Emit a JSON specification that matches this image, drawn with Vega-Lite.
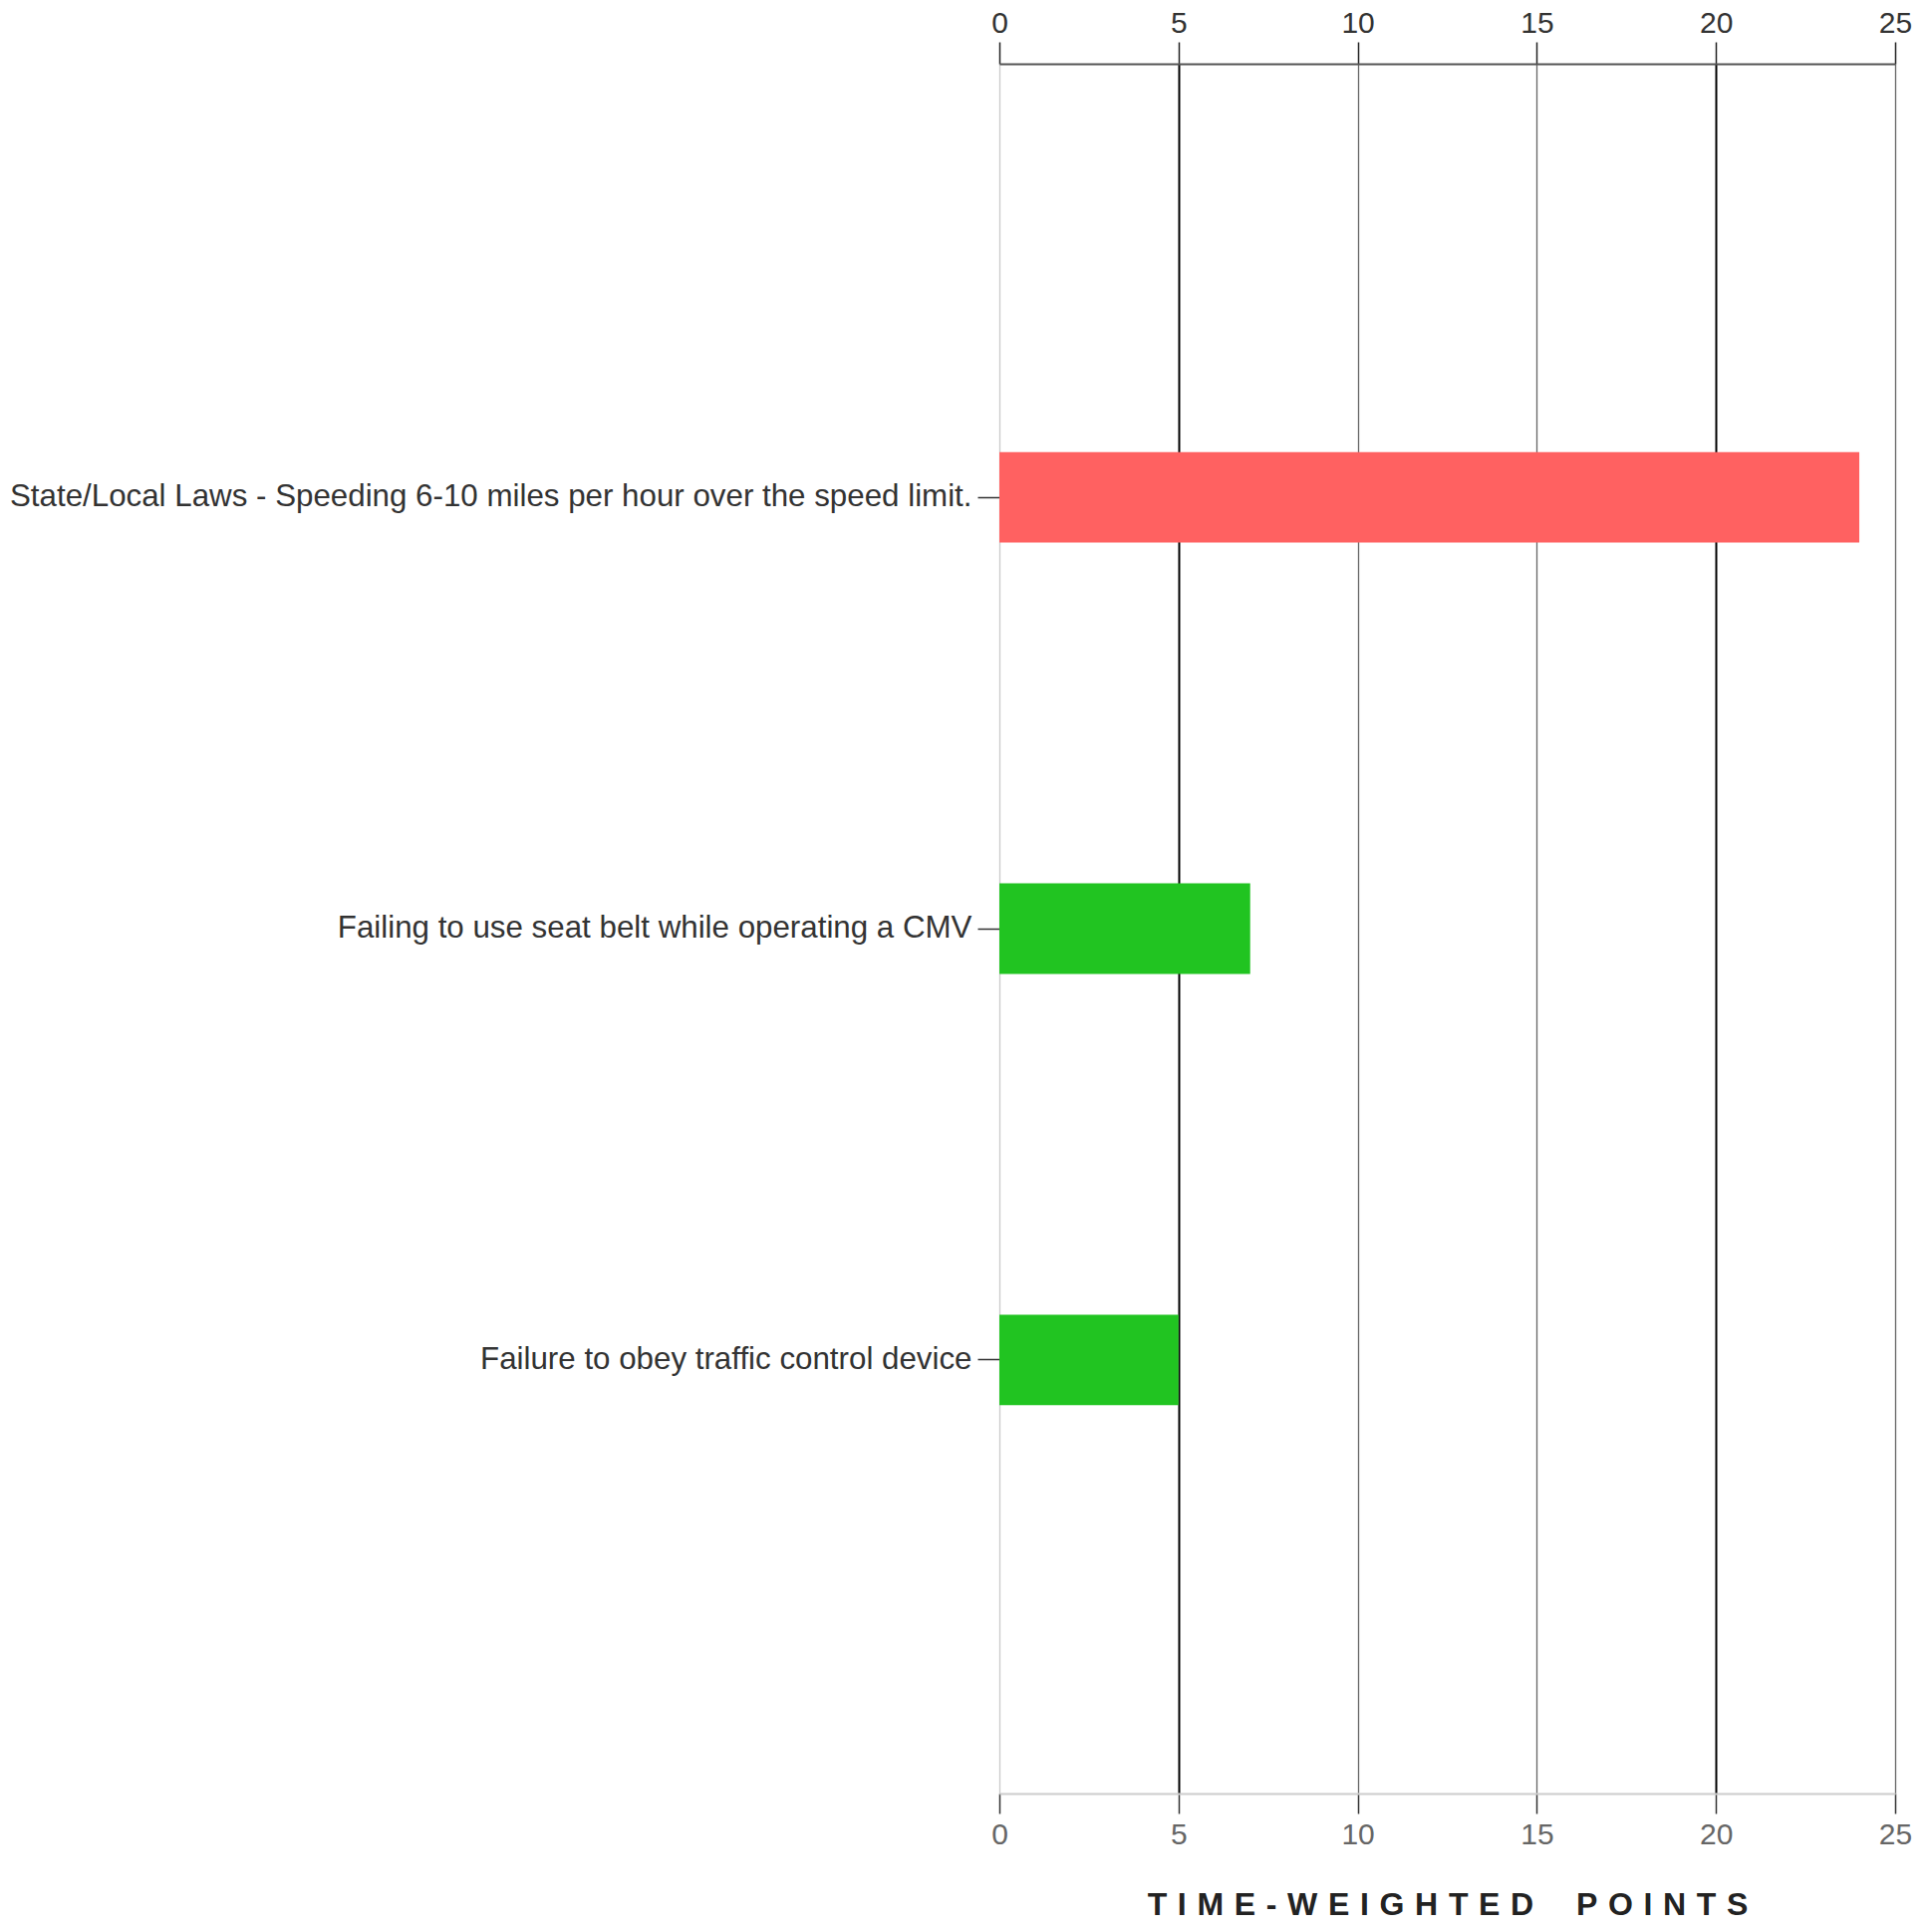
{
  "$schema": "https://vega.github.io/schema/vega-lite/v6.json",
  "autosize": "none",
  "width": 899,
  "height": 1736,
  "padding": {"left": 1003, "top": 64, "right": 35, "bottom": 139},
  "background": "white",
  "data": {"values": [
    {"violation": "State/Local Laws - Speeding 6-10 miles per hour over the speed limit.", "points": 24, "severity": "high"},
    {"violation": "Failing to use seat belt while operating a CMV", "points": 7, "severity": "low"},
    {"violation": "Failure to obey traffic control device", "points": 5, "severity": "low"}
  ]},
  "config": {
    "view": {"stroke": null},
    "font": "Liberation Sans"
  },
  "resolve": {"scale": {"x": "shared"}, "axis": {"x": "independent"}},
  "layer": [
    {
      "mark": {"type": "bar"},
      "encoding": {
        "y": {
          "field": "violation", "type": "nominal", "sort": null,
          "scale": {"paddingInner": 0.79, "paddingOuter": 0.9},
          "axis": {
            "title": null, "domain": false, "tickSize": 22, "tickColor": "#333", "tickWidth": 1.5,
            "labelFontSize": 31.3, "labelColor": "#333", "labelPadding": 6, "labelLimit": 1000
          }
        },
        "x": {
          "field": "points", "type": "quantitative",
          "scale": {"domain": [0, 25], "nice": false},
          "axis": {
            "orient": "bottom", "values": [0, 5, 10, 15, 20, 25],
            "title": "T\u2004I\u2004M\u2004E\u2004-\u2004W\u2004E\u2004I\u2004G\u2004H\u2004T\u2004E\u2004D\u2003\u2004P\u2004O\u2004I\u2004N\u2004T\u2004S",
            "titleFontSize": 32, "titleFontWeight": "bold", "titleColor": "#222", "titlePadding": 40,
            "domainColor": "#ccc", "domainWidth": 2,
            "tickSize": 20, "tickColor": "#333", "tickWidth": 1.5,
            "labelFontSize": 30, "labelColor": "#666", "labelPadding": 6, "labelFlush": false,
            "grid": true,
            "gridColor": {"condition": {"test": "datum.value == 5 || datum.value == 20", "value": "#000"}, "value": "#666"},
            "gridWidth": {"condition": {"test": "datum.value == 5 || datum.value == 20", "value": 2}, "value": 1.3},
            "gridOpacity": {"condition": {"test": "datum.value == 0", "value": 0.35}, "value": 1}
          }
        },
        "color": {
          "field": "severity", "type": "nominal",
          "scale": {"domain": ["high", "low"], "range": ["#ff6161", "#21c421"]},
          "legend": null
        }
      }
    },
    {
      "mark": {"type": "bar", "opacity": 0},
      "encoding": {
        "y": {"field": "violation", "type": "nominal", "sort": null},
        "x": {
          "field": "points", "type": "quantitative",
          "axis": {
            "orient": "top", "values": [0, 5, 10, 15, 20, 25], "title": null,
            "domainColor": "#555", "domainWidth": 2,
            "tickSize": 22, "tickColor": "#222", "tickWidth": 1.5,
            "labelFontSize": 30, "labelColor": "#333", "labelPadding": 4, "labelFlush": false,
            "grid": false
          }
        }
      }
    }
  ]
}
